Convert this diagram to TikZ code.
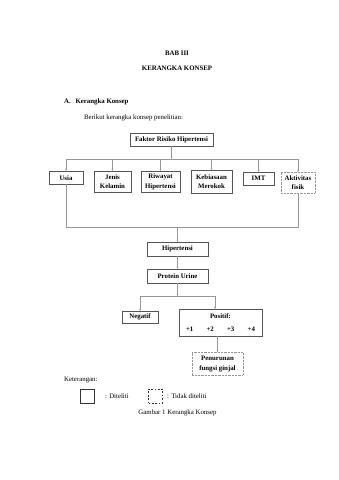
\documentclass[tikz,border=0pt]{standalone}
\usepackage{fontspec}
\setmainfont{Liberation Serif}
\usetikzlibrary{arrows.meta,positioning}
\definecolor{boxgray}{RGB}{85,85,85}
\definecolor{linegray}{RGB}{150,150,150}
\def\pxu{1.755pt}
\tikzset{
  box/.style={draw=boxgray,line width=0.8pt,font=\bfseries\fontsize{12}{17}\selectfont,align=center,inner sep=1pt,anchor=north},
  dbox/.style={box,draw=linegray,dash pattern=on 1.5pt off 1pt},
  link/.style={draw=linegray,line width=0.8pt},
  arr/.style={link,-{Stealth[length=4pt,width=3.2pt]}},
  txt/.style={font=\fontsize{12}{14}\selectfont,inner sep=0pt},
  htxt/.style={font=\bfseries\fontsize{12}{14}\selectfont,inner sep=0pt},
  key/.style={draw=black!80,line width=0.9pt,minimum size=14*\pxu,inner sep=0pt}
}
\begin{document}
\begin{tikzpicture}[x=1.755pt,y=-1.755pt]
  \useasboundingbox (0,0) rectangle (339,480);
  % headings
  \node[htxt] (bab) at (177,53) {BAB III};
  \node[htxt] (judul) at (177,68) {KERANGKA KONSEP};
  \node[htxt,anchor=west] (sub) at (64,102) {A.\hspace{0.7em}Kerangka Konsep};
  \node[txt,anchor=west] (intro) at (84,118) {Berikut kerangka konsep penelitian:};
  % risk factors
  \node[box,minimum width=83*\pxu,minimum height=13*\pxu] (faktor) at (171.5,133) {Faktor Risiko Hipertensi};
  \node[box,minimum width=34*\pxu,minimum height=13*\pxu] (usia) at (66,171) {Usia};
  \node[box,minimum width=37*\pxu,minimum height=21*\pxu] (jenis) at (112.5,171) {Jenis\\Kelamin};
  \node[box,minimum width=39*\pxu,minimum height=21*\pxu] (riwayat) at (160.5,171) {Riwayat\\Hipertensi};
  \node[box,minimum width=41*\pxu,minimum height=23*\pxu] (kebiasaan) at (211.5,170) {Kebiasaan\\Merokok};
  \node[box,minimum width=31*\pxu,minimum height=13*\pxu] (imt) at (258.5,172) {IMT};
  \node[dbox,minimum width=34*\pxu,minimum height=21*\pxu] (aktivitas) at (298,172) {Aktivitas\\fisik};
  % outcome chain
  \node[box,minimum width=61*\pxu,minimum height=14*\pxu] (hipertensi) at (177.5,242) {Hipertensi};
  \node[box,minimum width=61*\pxu,minimum height=14*\pxu] (protein) at (177.5,269) {Protein Urine};
  \node[box,minimum width=36*\pxu,minimum height=12*\pxu] (negatif) at (140,311) {Negatif};
  \node[box,minimum width=83*\pxu,minimum height=27*\pxu,inner xsep=0pt] (positif) at (220.5,309)
    {Positif:\\[7pt]\makebox[36pt]{+1}\makebox[36pt]{+2}\makebox[36pt]{+3}\makebox[36pt]{+4}};
  \node[dbox,minimum width=51*\pxu,minimum height=23*\pxu] (penurunan) at (217.5,352) {Penurunan\\fungsi ginjal};
  % connectors
  \coordinate (bus) at (171.5,159);
  \draw[arr] (faktor.south) -- (faktor.south |- bus);
  \draw[link] (usia.north |- bus) -- (aktivitas.north |- bus);
  \foreach \n in {usia,jenis,riwayat,kebiasaan,imt,aktivitas}
    \draw[arr] (\n.north |- bus) -- (\n.north);
  \coordinate (col) at (177.5,227);
  \draw[link] (usia.south) -- (usia.south |- col) -- (aktivitas.south |- col) -- (aktivitas.south);
  \draw[arr] (hipertensi.north |- col) -- (hipertensi.north);
  \draw[arr] (hipertensi) -- (protein);
  \coordinate (split) at (177.5,296);
  \coordinate (posl) at (215,296);
  \draw[arr] (protein.south) -- (split);
  \draw[link] (negatif.north |- split) -- (posl);
  \draw[arr] (negatif.north |- split) -- (negatif.north);
  \draw[arr] (posl) -- (posl |- positif.north);
  \draw[arr] (penurunan.north |- positif.south) -- (penurunan.north);
  % legend
  \node[txt,anchor=west] (ket) at (64,380) {Keterangan:};
  \node[key] (lsolid) at (87,396) {};
  \node[txt,anchor=west] (lsolidtxt) at (105,396) {: Diteliti};
  \node[key,dashed] (ldash) at (155.5,396) {};
  \node[txt,anchor=west] (ldashtxt) at (167,396) {: Tidak diteliti};
  \node[txt] (caption) at (177.5,413) {Gambar 1 Kerangka Konsep};
\end{tikzpicture}
\end{document}
